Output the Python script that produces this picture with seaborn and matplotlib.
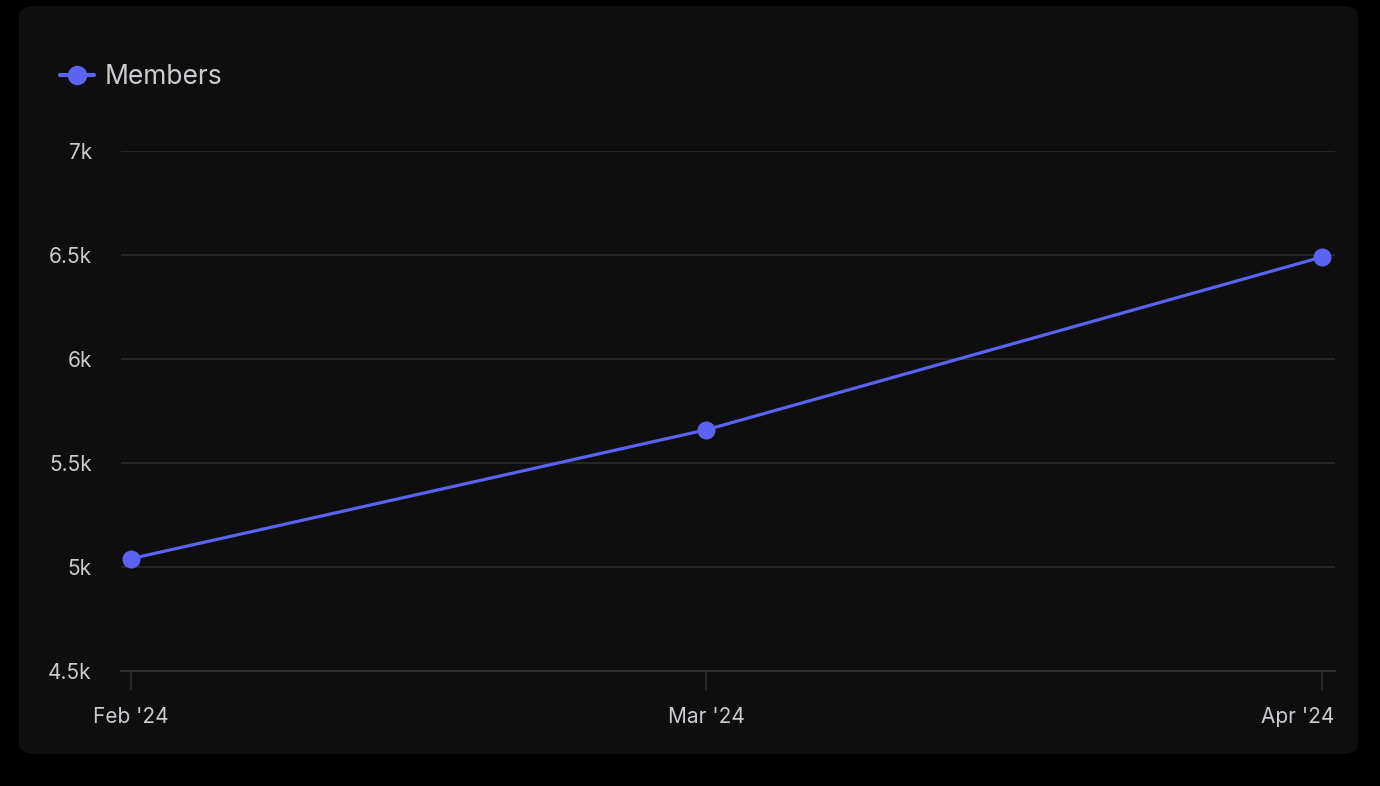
import pandas as pd
import matplotlib.pyplot as plt
import matplotlib.transforms as mtransforms
from matplotlib.patches import FancyBboxPatch
import seaborn as sns

# data
months = ['2024-02-01', '2024-03-01', '2024-04-01']
month_labels = ["Feb '24", "Mar '24", "Apr '24"]
members = [5040, 5660, 6490]
y_ticks = [4500, 5000, 5500, 6000, 6500, 7000]
y_labels = ['4.5k', '5k', '5.5k', '6k', '6.5k', '7k']

df = pd.DataFrame({'month': pd.to_datetime(months), 'Members': members})

sns.set_theme(style='dark')
plt.rcParams['font.family'] = ['Inter', 'DejaVu Sans']

line_color = '#5a63f2'
text_color = '#c9ccd1'
grid_color = '#2a2a2a'
panel_color = '#0e0e0e'

fig = plt.figure(figsize=(13.8, 7.86), dpi=100)
fig.patch.set_facecolor('#000000')

# rounded panel behind the chart
panel = FancyBboxPatch((19 / 1380, 32 / 786), 1339 / 1380, 748 / 786,
                       boxstyle='round,pad=0,rounding_size=0.012',
                       transform=fig.transFigure, facecolor=panel_color,
                       edgecolor='none', zorder=-10)
fig.patches.append(panel)

ax = fig.add_axes([121 / 1380, 1 - 671 / 786, 1214 / 1380, 520 / 786])
ax.set_facecolor('none')
ax.set_zorder(5)

sns.lineplot(data=df, x='month', y='Members', ax=ax, color=line_color,
             linewidth=2.3, marker='o', markersize=13, markeredgewidth=0,
             label='Members', zorder=3, clip_on=False)

ax.set_ylim(4500, 7000)
ax.set_xlim(df['month'].min() - pd.Timedelta(hours=12),
            df['month'].max() + pd.Timedelta(hours=16))
ax.set_yticks(y_ticks)
ax.set_yticklabels(y_labels)
ax.set_xticks(df['month'])
ax.set_xticklabels(month_labels)

ax.grid(axis='y', color=grid_color, linewidth=1.2)
ax.grid(axis='x', visible=False)
for side in ['top', 'right', 'left']:
    ax.spines[side].set_visible(False)
ax.spines['bottom'].set_color('#333333')
ax.spines['bottom'].set_linewidth(1.2)

ax.tick_params(axis='y', length=0, pad=21, labelsize=15, labelcolor=text_color)
ax.tick_params(axis='x', length=14, width=1.2, color='#2e2e2e', pad=12,
               labelsize=15, labelcolor=text_color, bottom=True)
ax.set_xlabel('')
ax.set_ylabel('')

# last x label is kept inside the panel, like the original
last = ax.get_xticklabels()[-1]
last.set_horizontalalignment('right')
last.set_transform(last.get_transform() +
                   mtransforms.ScaledTranslation(13 / 100, 0, fig.dpi_scale_trans))

leg = ax.legend(loc='upper left', bbox_to_anchor=(60 / 1380, 1 - 64 / 786),
                bbox_transform=fig.transFigure, frameon=False, fontsize=19,
                handlelength=1.3, handletextpad=0.4, borderpad=0,
                borderaxespad=0, labelcolor=text_color)
for h in leg.legend_handles:
    h.set_markersize(14)
    h.set_linewidth(3)

fig.savefig('out.png', dpi=100, facecolor=fig.get_facecolor())
